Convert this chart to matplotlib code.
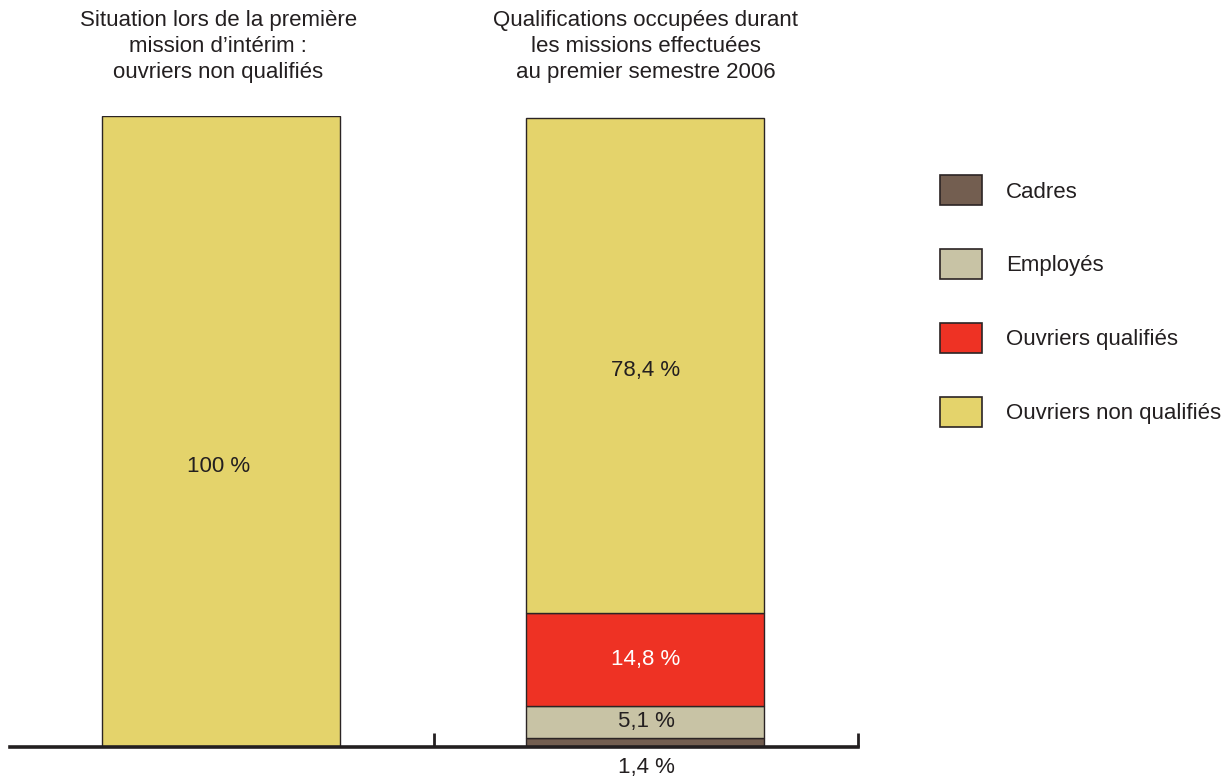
import matplotlib.pyplot as plt
from matplotlib.patches import Rectangle
import numpy as np

plt.rcParams['font.family'] = ['Liberation Sans', 'DejaVu Sans']

groups = ["Situation lors de la première\nmission d’intérim :\nouvriers non qualifiés",
          "Qualifications occupées durant\nles missions effectuées\nau premier semestre 2006"]
categories = ["Cadres", "Employés", "Ouvriers qualifiés", "Ouvriers non qualifiés"]
colors = ["#735e50", "#c8c3a5", "#ee3224", "#e4d36b"]
# shares per group, bottom to top
first_mission = [0, 0, 0, 100]
semester_2006 = [1.4, 5.1, 14.8, 78.4]
labels_first = ["", "", "", "100 %"]
labels_2006 = ["1,4 %", "5,1 %", "14,8 %", "78,4 %"]

text_col = "#231f20"
W, H = 1224, 776
fig = plt.figure(figsize=(W / 100, H / 100), dpi=100)
ax = fig.add_axes([10 / W, 29 / H, 848 / W, 631 / H])
ax.set_xlim(0, 2)
ax.set_ylim(0, 100)

x = np.array([0.498, 1.498])
width = 0.561
bottoms = np.zeros(2)
for i, cat in enumerate(categories):
    vals = np.array([first_mission[i], semester_2006[i]])
    ax.bar(x, vals, width, bottom=bottoms, color=colors[i],
           edgecolor="#2b2424", linewidth=1.0)
    bottoms += vals

# value labels
fs = 16
ax.text(0.492, 44.5, labels_first[3], ha="center", va="center", fontsize=fs, color=text_col)
cum = np.cumsum([0] + semester_2006)
ax.text(1.5, -3.3, labels_2006[0], ha="center", va="center", fontsize=fs,
        color=text_col, clip_on=False)
ax.text(1.5, cum[1] + semester_2006[1] / 2 + 0.1, labels_2006[1], ha="center",
        va="center", fontsize=fs, color=text_col)
ax.text(1.5, cum[2] + semester_2006[2] / 2, labels_2006[2], ha="center",
        va="center", fontsize=fs, color="white")
ax.text(1.5, cum[3] + semester_2006[3] / 2 - 0.9, labels_2006[3], ha="center",
        va="center", fontsize=fs, color=text_col)

# group titles
ax.text(0.491, 111.0, groups[0], ha="center", va="center", fontsize=fs,
        color=text_col, linespacing=1.3, clip_on=False)
ax.text(1.5, 111.0, groups[1], ha="center", va="center", fontsize=fs,
        color=text_col, linespacing=1.3, clip_on=False)

# baseline with group separators
for s in ["top", "right", "left"]:
    ax.spines[s].set_visible(False)
ax.spines["bottom"].set_linewidth(2.6)
ax.spines["bottom"].set_color(text_col)
ax.set_yticks([])
ax.set_xticks([1, 2])
ax.set_xticklabels([])
ax.tick_params(axis="x", direction="in", length=10, width=2, color=text_col)

# legend, Cadres on top
for i, cat in enumerate(categories):
    yc = 190 + i * 74
    fig.add_artist(Rectangle((940 / W, 1 - (yc + 15) / H), 42 / W, 30 / H,
                             transform=fig.transFigure, facecolor=colors[i],
                             edgecolor="#2b2424", linewidth=1.2))
    fig.text(1006 / W, 1 - (yc + 2) / H, cat, ha="left", va="center", fontsize=fs,
             color=text_col)

fig.savefig("out.png", dpi=100)
